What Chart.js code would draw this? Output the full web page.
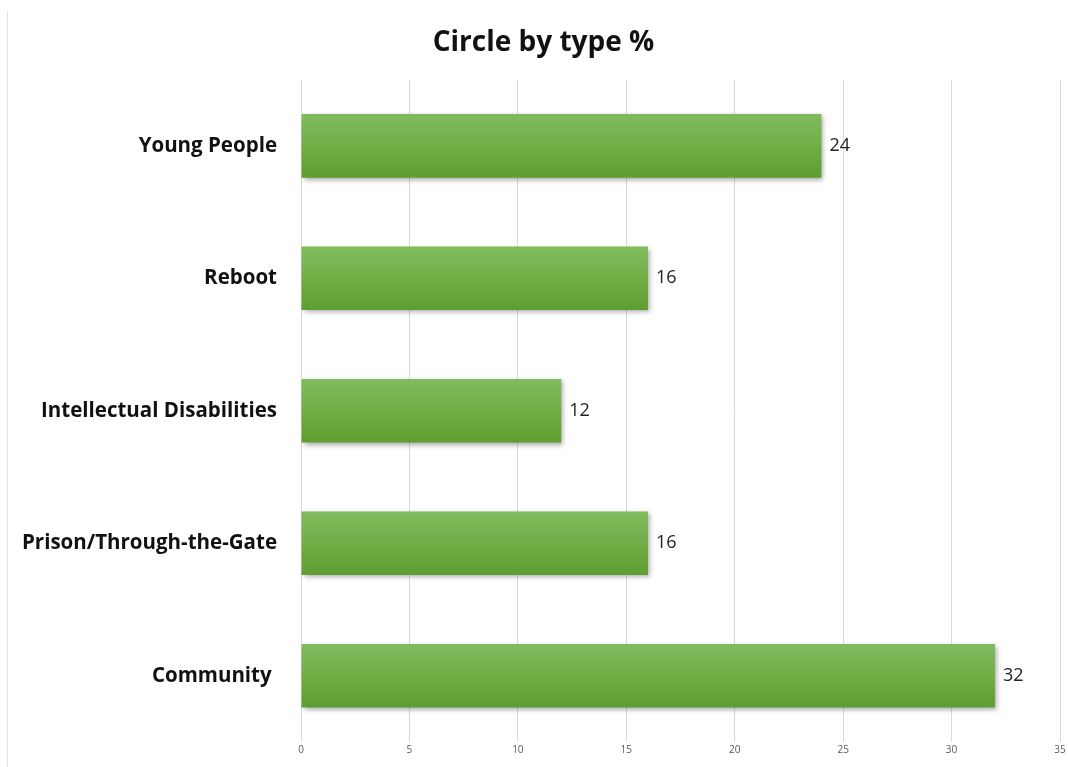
<!DOCTYPE html>
<html>
<head>
<meta charset="utf-8">
<title>Circle by type %</title>
<script src="https://cdn.jsdelivr.net/npm/chart.js"></script>
<style>
    html, body { margin: 0; padding: 0; background: #fff; overflow: hidden; }
    #wrap { position: relative; width: 1068px; height: 767px; }
</style>
</head>
<body>
<div id="wrap">
    <canvas id="circleChart" width="1068" height="767"></canvas>
</div>
<script>
    const categories = ['Young People', 'Reboot', 'Intellectual Disabilities', 'Prison/Through-the-Gate', 'Community '];
    const circlePercent = [24, 16, 12, 16, 32];
    const xTicks = [0, 5, 10, 15, 20, 25, 30, 35];

    const barShare = 0.48; // bar thickness as part of each category band
    const FONT = '"Open Sans", Lato, sans-serif';

    // vertical gradient per bar, worked out from the category scale
    function barFill(c) {
        const chart = c.chart;
        const y = chart.scales.y;
        if (!y || !chart.chartArea) return 'rgb(112,173,71)';
        const center = y.getPixelForValue(c.dataIndex);
        const half = y.height / categories.length * barShare / 2;
        const g = chart.ctx.createLinearGradient(0, center - half, 0, center + half);
        g.addColorStop(0, 'rgb(129,187,94)');
        g.addColorStop(0.5, 'rgb(112,174,70)');
        g.addColorStop(1, 'rgb(94,157,48)');
        return g;
    }

    const barShadow = {
        id: 'barShadow',
        beforeDatasetsDraw(chart) {
            const ctx = chart.ctx;
            ctx.save();
            ctx.shadowColor = 'rgba(0,0,0,0.35)';
            ctx.shadowBlur = 5;
            ctx.shadowOffsetX = 2;
            ctx.shadowOffsetY = 2;
        },
        afterDatasetsDraw(chart) {
            chart.ctx.restore();
        }
    };

    const valueLabels = {
        id: 'valueLabels',
        afterDraw(chart) {
            const ctx = chart.ctx;
            const meta = chart.getDatasetMeta(0);
            ctx.save();
            ctx.font = '18px ' + FONT;
            ctx.fillStyle = '#222';
            ctx.textAlign = 'left';
            ctx.textBaseline = 'middle';
            meta.data.forEach((bar, i) => {
                ctx.fillText(String(circlePercent[i]), bar.x + 8, bar.y);
            });
            ctx.restore();
        }
    };

    const frameLine = {
        id: 'frameLine',
        // title in the original sits a bit right of the canvas centre
        afterLayout(chart) {
            if (chart.titleBlock) chart.titleBlock.left += 27;
        },
        beforeDraw(chart) {
            const ctx = chart.ctx;
            ctx.save();
            ctx.strokeStyle = '#e0e0e0';
            ctx.lineWidth = 1;
            ctx.beginPath();
            ctx.moveTo(7.5, 11);
            ctx.lineTo(7.5, chart.height);
            ctx.stroke();
            ctx.restore();
        }
    };

    const ctx = document.getElementById('circleChart').getContext('2d');
    new Chart(ctx, {
        type: 'bar',
        data: {
            labels: categories,
            datasets: [{
                label: 'Circle by type %',
                data: circlePercent,
                backgroundColor: barFill,
                borderWidth: 0,
                barPercentage: barShare,
                categoryPercentage: 1
            }]
        },
        options: {
            indexAxis: 'y',
            responsive: false,
            animation: false,
            layout: { padding: { left: 0, right: 8, top: 0, bottom: 0 } },
            plugins: {
                legend: { display: false },
                tooltip: { enabled: false },
                title: {
                    display: true,
                    text: 'Circle by type %',
                    color: '#111',
                    font: { family: FONT, size: 28, weight: 'bold' },
                    padding: { top: 26, bottom: 20 }
                }
            },
            scales: {
                x: {
                    min: 0,
                    max: 35,
                    afterBuildTicks(scale) {
                        scale.ticks = xTicks.map(v => ({ value: v }));
                    },
                    afterFit(scale) { scale.height = 25; },
                    grid: { color: '#d9d9d9', lineWidth: 1, drawTicks: false },
                    border: { display: false },
                    ticks: {
                        padding: 2,
                        color: '#595959',
                        font: { family: FONT, size: 10 }
                    }
                },
                y: {
                    afterFit(scale) { scale.width = 301; },
                    // invisible tick marks keep the label gap without padding the plot top/bottom
                    grid: { display: false, drawTicks: true, tickLength: 24 },
                    border: { display: false },
                    ticks: {
                        padding: 0,
                        color: '#111',
                        font: { family: FONT, size: 20.5, weight: 'bold' }
                    }
                }
            }
        },
        plugins: [frameLine, barShadow, valueLabels]
    });
</script>
</body>
</html>
